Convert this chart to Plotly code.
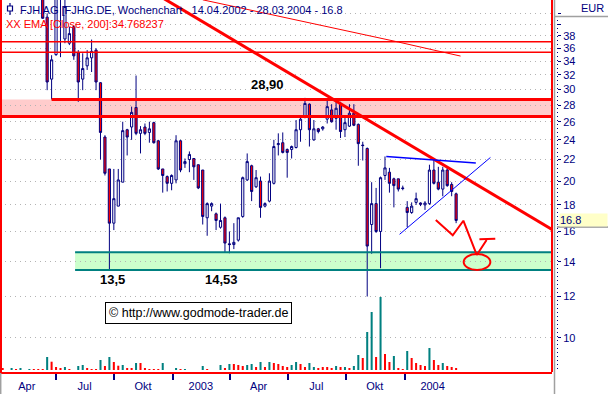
import datetime as dt
import math
import plotly.graph_objects as go

# ---------------- data ----------------
start = dt.date(2002, 4, 8)
dates = [(start + dt.timedelta(days=7 * i)).isoformat() for i in range(103)]

opens = [50.5, 51.0, 50.0, 48.0, 49.5, 47.5, 48.5, 47.0, 46.5, 47.5,
         41.3, 31.4, 35.0, 46.0, 37.5, 36.8, 39.6, 35.3, 31.4, 33.3,
         34.5, 35.7, 30.9, 24.3, 21.1, 16.6, 17.9, 19.9, 25.1, 25.4,
         27.7, 24.7, 25.4, 24.8, 25.9, 23.9, 21.1, 20.4, 19.8, 20.1,
         23.9, 21.6, 22.0, 22.1, 21.5, 21.0, 17.0, 17.9, 17.3, 16.3,
         17.0, 15.15, 15.1, 15.4, 17.1, 20.1, 21.4, 19.5, 20.0, 17.9,
         18.3, 19.8, 23.5, 23.7, 23.0, 23.0, 23.2, 25.1, 26.5, 28.1,
         24.0, 25.2, 25.2, 26.3, 27.4, 26.4, 28.2, 25.1, 25.5, 27.0,
         25.7, 23.45, 23.1, 16.5, 18.1, 16.0, 20.5, 20.8, 20.2, 20.2,
         19.4, 17.8, 17.4, 18.2, 18.15, 18.0, 18.1, 21.0, 19.9, 19.3,
         21.0, 19.7, 18.9]
highs = [52.0, 53.0, 51.5, 50.0, 51.0, 49.0, 50.0, 48.5, 48.0, 48.5,
         42.0, 34.9, 47.0, 47.5, 45.5, 39.6, 39.8, 35.7, 35.2, 35.7,
         37.4, 36.0, 31.0, 24.5, 21.1, 21.1, 21.1, 26.0, 25.2, 27.8,
         31.9, 25.5, 25.8, 26.0, 26.0, 24.0, 21.1, 20.5, 20.6, 24.5,
         24.0, 22.1, 22.8, 22.1, 21.5, 21.0, 18.2, 18.2, 17.4, 18.1,
         17.1, 16.0, 16.6, 17.0, 20.4, 22.6, 21.5, 21.0, 20.4, 18.2,
         20.7, 24.0, 24.7, 24.8, 23.1, 23.4, 26.2, 26.7, 28.9, 28.2,
         26.2, 25.3, 25.5, 28.5, 28.1, 28.5, 28.4, 26.7, 28.1, 28.1,
         25.8, 23.8, 23.2, 19.9, 19.4, 20.4, 22.3, 21.2, 20.3, 20.2,
         19.6, 18.3, 18.2, 19.0, 18.2, 18.3, 21.5, 21.95, 21.3, 21.3,
         21.2, 19.9, 19.0]
lows = [49.0, 49.5, 47.5, 46.5, 47.0, 46.0, 46.5, 45.5, 45.2, 41.0,
        29.9, 28.7, 34.8, 34.6, 36.8, 36.5, 34.2, 28.4, 29.9, 32.7,
        32.4, 29.9, 22.0, 20.5, 13.5, 16.1, 17.9, 19.9, 22.4, 24.0,
        24.5, 22.6, 24.5, 23.7, 23.6, 21.0, 19.0, 19.1, 19.2, 19.8,
        20.8, 21.2, 20.8, 20.1, 19.3, 16.5, 15.7, 17.5, 16.1, 16.2,
        14.6, 14.53, 14.8, 15.3, 17.0, 20.0, 18.3, 19.4, 17.0, 17.8,
        18.2, 19.7, 22.4, 22.6, 20.3, 22.1, 23.1, 23.8, 26.4, 23.3,
        23.9, 24.7, 25.0, 25.8, 25.9, 25.1, 24.2, 24.3, 25.4, 25.5,
        21.4, 21.9, 12.0, 14.5, 15.9, 13.6, 20.1, 19.0, 17.8, 19.1,
        19.2, 16.3, 17.3, 18.0, 17.9, 17.6, 18.0, 19.7, 19.2, 18.7,
        19.5, 18.7, 16.6]
closes = [51.0, 50.0, 48.0, 49.5, 47.5, 48.5, 47.0, 46.5, 47.5, 41.1,
          31.0, 34.2, 45.5, 45.0, 43.3, 38.4, 34.8, 31.0, 32.9, 34.5,
          35.5, 31.0, 24.8, 20.7, 16.6, 18.5, 20.1, 25.0, 24.3, 27.1,
          24.7, 25.1, 24.7, 25.2, 23.7, 21.1, 20.5, 19.8, 20.5, 23.9,
          21.0, 21.8, 22.5, 21.3, 19.4, 17.1, 18.1, 18.1, 16.8, 16.8,
          15.2, 15.1, 15.25, 17.0, 20.3, 21.8, 19.1, 20.3, 17.8, 18.1,
          20.0, 23.3, 23.6, 22.7, 22.7, 23.3, 25.1, 26.3, 28.2, 25.1,
          25.2, 24.9, 25.4, 27.8, 26.0, 27.6, 24.9, 25.9, 27.0, 25.6,
          23.6, 23.4, 15.0, 18.1, 16.0, 20.3, 21.2, 19.8, 19.6, 19.3,
          19.35, 17.4, 17.9, 18.5, 18.05, 18.15, 21.0, 19.8, 19.3, 21.0,
          19.6, 19.1, 16.8]
# weekly volume (thousand shares) and bar colour flag (u = teal, d = red)
volume = [13, 0, 20, 10, 20, 0, 10, 10, 10, 10,
          130, 83, 30, 20, 30, 10, 0, 40, 50, 20,
          10, 10, 100, 40, 130, 80, 43, 50, 20, 20,
          70, 70, 20, 10, 10, 10, 70, 0, 0, 20,
          10, 10, 0, 0, 0, 40, 10, 0, 0, 50,
          20, 60, 60, 50, 40, 50, 60, 30, 80, 30,
          80, 70, 60, 40, 30, 50, 80, 60, 30, 70,
          30, 20, 30, 30, 20, 40, 30, 30, 20, 40,
          150, 120, 380, 580, 130, 730, 160, 80, 140, 20,
          10, 190, 120, 70, 50, 40, 220, 100, 50, 70,
          40, 30, 20]
vol_dir = list("ddudududdd" "udddudduud" "ddududdudd" "uddddduddu" "dudddudddu"
               "duddduudud" "udddduuddu" "uddddududu" "uduududdud" "dudddduddu" "ddd")

# EMA(200) readings
ema_dates = ["2003-02-17", "2003-05-05", "2003-07-21", "2003-10-06", "2003-12-22", "2004-02-16", "2004-03-29"]
ema_vals = [44.6, 42.6, 40.6, 38.8, 37.0, 35.7, 34.77]

# drawn analysis levels
res_zone = [26.6, 28.7]
sup_zone = [13.5, 14.6]
old_lines = [35.35, 37.05]
trend_d = ["2002-11-26", "2004-08-20"]
trend_v = [46.5, 16.14]
tri_top_d = ["2003-12-03", "2004-04-22"]
tri_top_v = [22.3, 21.66]
tri_bot_d = ["2003-12-24", "2004-05-15"]
tri_bot_v = [15.8, 22.2]
zig_d = ["2004-02-19", "2004-03-16 17:00", "2004-04-02 10:00", "2004-04-23 12:00", "2004-05-09"]
zig_v = [16.83, 15.73, 16.78, 14.42, 15.41]
bar_d = ["2004-04-27 17:00", "2004-05-22 17:00"]
bar_v = [15.46, 15.5]
ell_d = ["2004-04-02 22:00", "2004-05-14 22:00"]
ell_v = [13.49, 14.48]

ytick_vals = [10, 12, 14, 16, 18, 20, 22, 24, 26, 28, 30, 32, 34, 36, 38, 40, 42]
ytick_text = ["10", "12", "14", "16", "18", "20", "22", "24", "26", "28", "30", "32", "34", "36", "38", "", ""]
xq_ticks = ["2002-07-01", "2002-10-01", "2003-01-01", "2003-04-01", "2003-07-01", "2003-10-01", "2004-01-01"]
xl_vals = ["2002-05-16", "2002-08-15", "2002-11-15", "2003-02-14", "2003-05-16", "2003-08-15", "2003-11-15", "2004-02-14"]
xl_text = ["Apr", "Jul", "Okt", "2003", "Apr", "Jul", "Okt", "2004"]

# ---------------- style ----------------
NAVY = "#000080"
RED = "#ff0000"
TEAL = "#008080"
FONT = "Liberation Sans"
W, H = 608, 394
PW, PH = 557, 372           # plot area (paper) in px
x_range = ["2002-04-03 18:00", "2004-08-20"]
y_range = [math.log10(8.592), math.log10(44.56)]


def X(px):
    return px / PW


def Y(py):
    return 1 - py / PH


fig = go.Figure()

fig.add_trace(go.Candlestick(
    x=dates, open=opens, high=highs, low=lows, close=closes,
    increasing=dict(line=dict(color=NAVY, width=1), fillcolor="white"),
    decreasing=dict(line=dict(color=NAVY, width=1), fillcolor=RED),
    whiskerwidth=0, hoverinfo="skip", showlegend=False))

fig.add_trace(go.Bar(
    x=dates, y=volume, yaxis="y2", width=3.2 * 86400000,
    marker=dict(color=[TEAL if c == "u" else RED for c in vol_dir], line=dict(width=0)),
    hoverinfo="skip", showlegend=False))


def line(xs, ys, color, width, yaxis="y"):
    fig.add_trace(go.Scatter(x=xs, y=ys, mode="lines", yaxis=yaxis,
                             line=dict(color=color, width=width),
                             hoverinfo="skip", showlegend=False))


# horizontal levels
line(x_range, [old_lines[1]] * 2, RED, 1.5)
line(x_range, [old_lines[0]] * 2, RED, 1.5)
line(["2002-06-24", x_range[1]], [res_zone[1]] * 2, RED, 3)
line(x_range, [res_zone[0]] * 2, RED, 3)
line(["2002-07-31", x_range[1]], [sup_zone[1]] * 2, TEAL, 2)
line(["2002-07-31", x_range[1]], [sup_zone[0]] * 2, TEAL, 2)
# EMA
line(ema_dates, ema_vals, RED, 1)
# trend line
line(trend_d, trend_v, RED, 3)
# triangle
line(tri_top_d, tri_top_v, "#0000ff", 1.5)
line(tri_bot_d, tri_bot_v, "#0000ff", 1)
# projection
line(zig_d, zig_v, RED, 2)
line(bar_d, bar_v, RED, 2)

shapes = [
    dict(type="rect", xref="x", yref="y", x0=x_range[0], x1=x_range[1], y0=res_zone[0], y1=res_zone[1],
         fillcolor="#ffcccc", line=dict(width=0), layer="below"),
    dict(type="rect", xref="x", yref="y", x0="2002-07-31", x1=x_range[1], y0=sup_zone[0], y1=sup_zone[1],
         fillcolor="#ccffcc", line=dict(width=0), layer="below"),
    dict(type="circle", xref="x", yref="y", x0=ell_d[0], x1=ell_d[1], y0=ell_v[0], y1=ell_v[1],
         line=dict(color=RED, width=2)),
    # frame (left / right)
    dict(type="line", xref="paper", yref="paper", x0=X(1), x1=X(1), y0=Y(0), y1=Y(372), line=dict(color=RED, width=2)),
    dict(type="line", xref="paper", yref="paper", x0=X(552), x1=X(552), y0=Y(0), y1=Y(372), line=dict(color=RED, width=2)),
    dict(type="line", xref="paper", yref="paper", x0=X(0.7), x1=X(0.7), y0=Y(373), y1=Y(394), line=dict(color="#a0a0a0", width=1.5)),
    # right panel
    dict(type="line", xref="paper", yref="paper", x0=X(554.5), x1=X(554.5), y0=Y(0), y1=Y(394), line=dict(color="#a0a0a0", width=1.5)),
    dict(type="line", xref="paper", yref="paper", x0=X(554), x1=X(608), y0=Y(16.5), y1=Y(16.5), line=dict(color="#a0a0a0", width=1.5)),
    dict(type="line", xref="paper", yref="paper", x0=X(557.5), x1=X(557.5), y0=Y(20), y1=Y(372), line=dict(color=NAVY, width=1, dash="1px,3px")),
    dict(type="line", xref="paper", yref="paper", x0=X(557), x1=X(608), y0=Y(227), y1=Y(227), line=dict(color="#909090", width=1.5)),
    # title icon
    dict(type="rect", xref="paper", yref="paper", x0=X(7.5), x1=X(12.5), y0=Y(11), y1=Y(6), line=dict(color=NAVY, width=1.2)),
    dict(type="line", xref="paper", yref="paper", x0=X(10), x1=X(10), y0=Y(3), y1=Y(6), line=dict(color=NAVY, width=1.2)),
    dict(type="line", xref="paper", yref="paper", x0=X(10), x1=X(10), y0=Y(11), y1=Y(15), line=dict(color=NAVY, width=1.2)),
]

ann = [
    dict(x=X(18), y=Y(10), text="FJH AG [FJHG.DE, Wochenchart\u00a0\u00a0\u00a014.04.2002 - 28.03.2004 - 16.8",
         font=dict(color=NAVY, size=11)),
    dict(x=X(4), y=Y(24), text="XX EMA [Close, 200]:34.768237", font=dict(color=RED, size=11)),
    dict(x=X(606), y=Y(8), text="EUR", xanchor="right", font=dict(color=NAVY, size=11)),
    dict(x=X(267), y=Y(84), text="<b>28,90</b>", xanchor="center", font=dict(color="black", size=13)),
    dict(x=X(112.5), y=Y(279), text="<b>13,5</b>", xanchor="center", font=dict(color="black", size=13)),
    dict(x=X(221.5), y=Y(279), text="<b>14,53</b>", xanchor="center", font=dict(color="black", size=13)),
    dict(x=X(198), y=Y(312.7), text="\u00a9 http://www.godmode-trader.de", xanchor="center",
         font=dict(color="black", size=12.5), bgcolor="white", bordercolor="black", borderwidth=1, borderpad=3),
    dict(x=X(559), y=Y(219.5), text="16.8", xanchor="left", width=47, align="left",
         font=dict(color=NAVY, size=11), bgcolor="#ffffc8", borderpad=0),
]
annotations = []
for a in ann:
    d = dict(xref="paper", yref="paper", showarrow=False, xanchor="left", yanchor="middle")
    d.update(a)
    d["font"] = dict(family=FONT, **a["font"])
    annotations.append(d)

fig.update_layout(
    width=W, height=H, margin=dict(l=0, r=W - PW, t=0, b=H - PH),
    paper_bgcolor="white", plot_bgcolor="white",
    font=dict(family=FONT, size=11, color=NAVY),
    showlegend=False, hovermode=False,
    xaxis=dict(type="date", range=x_range, domain=[0, 552 / PW], showgrid=False, zeroline=False,
               tickmode="array", tickvals=xq_ticks, ticks="outside", ticklen=6, tickwidth=2,
               tickcolor=NAVY, showticklabels=False, showline=True, linecolor=RED, linewidth=2,
               rangeslider=dict(visible=False), fixedrange=True),
    xaxis2=dict(type="date", overlaying="x", anchor="y", side="bottom", range=x_range, showgrid=False,
                zeroline=False, tickmode="array", tickvals=xl_vals, ticktext=xl_text, ticks="",
                ticklabelstandoff=6,
                tickfont=dict(family=FONT, size=11, color=NAVY), showline=False),
    yaxis=dict(type="log", range=y_range, anchor="free", position=1, side="right",
               tickmode="array", tickvals=ytick_vals, ticktext=ytick_text, ticks="outside",
               ticklen=3, tickwidth=1, tickcolor=NAVY, tickfont=dict(family=FONT, size=11, color=NAVY),
               showgrid=True, gridcolor="#b4b4b4", gridwidth=1, griddash="1px,4px",
               zeroline=False, showline=False),
    yaxis2=dict(overlaying="y", range=[-20, 3700], visible=False, showgrid=False),
    shapes=shapes, annotations=annotations,
)

# xaxis2 needs a trace to show ticks
fig.add_trace(go.Scatter(x=[dates[0]], y=[None], xaxis="x2", mode="markers", hoverinfo="skip", showlegend=False))

fig.write_html("out.html")
